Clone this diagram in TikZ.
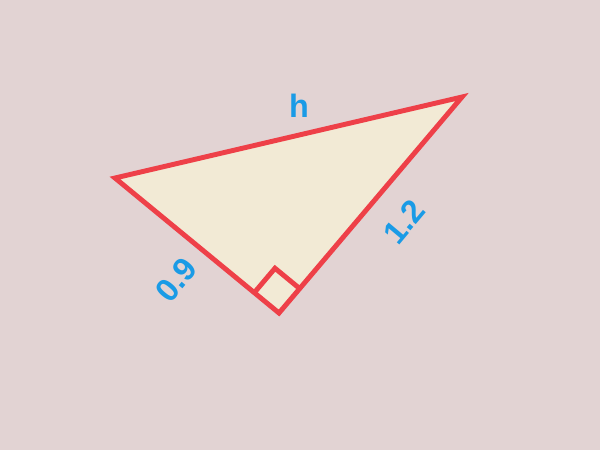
\documentclass[tikz,border=0pt]{standalone}
\usepackage{fontspec}
\setmainfont{Liberation Sans}
\usepackage{tikz}
\usetikzlibrary{calc}
\definecolor{bgpink}{HTML}{E2D3D3}
\definecolor{triline}{HTML}{EE4048}
\definecolor{trifill}{HTML}{F2EAD5}
\definecolor{labblue}{HTML}{1A9BE6}
\tikzset{
	side label/.style={text=labblue, font=\fontsize{23}{26}\selectfont\bfseries, inner sep=0pt}
}

\begin{document}
\begin{tikzpicture}[x=0.025cm, y=-0.025cm]
	\fill[bgpink] (0,0) rectangle (600,450);
	\useasboundingbox (0,0) rectangle (600,450);
	
	\coordinate (A) at (115,178);
	\coordinate (B) at (279,313);
	\coordinate (C) at (462,97);
	
	\draw[line width=3.5pt, triline, fill=trifill, line join=miter] (A) -- (B) -- (C) -- cycle;
	
	\coordinate (BA) at ($(B)!0.8cm!(A)$);
	\coordinate (BC) at ($(B)!0.8cm!(C)$);
	\draw[line width=3.5pt, triline] (BA) -- ($(BA)+(BC)-(B)$) -- (BC);
	
	\node[side label] (h) at (299,106) {h};
	\node[side label, rotate=50] (lab09) at (176,280) {0.9};
	\node[side label, rotate=50] (lab12) at (404,222) {1.2};
\end{tikzpicture}
\end{document}
